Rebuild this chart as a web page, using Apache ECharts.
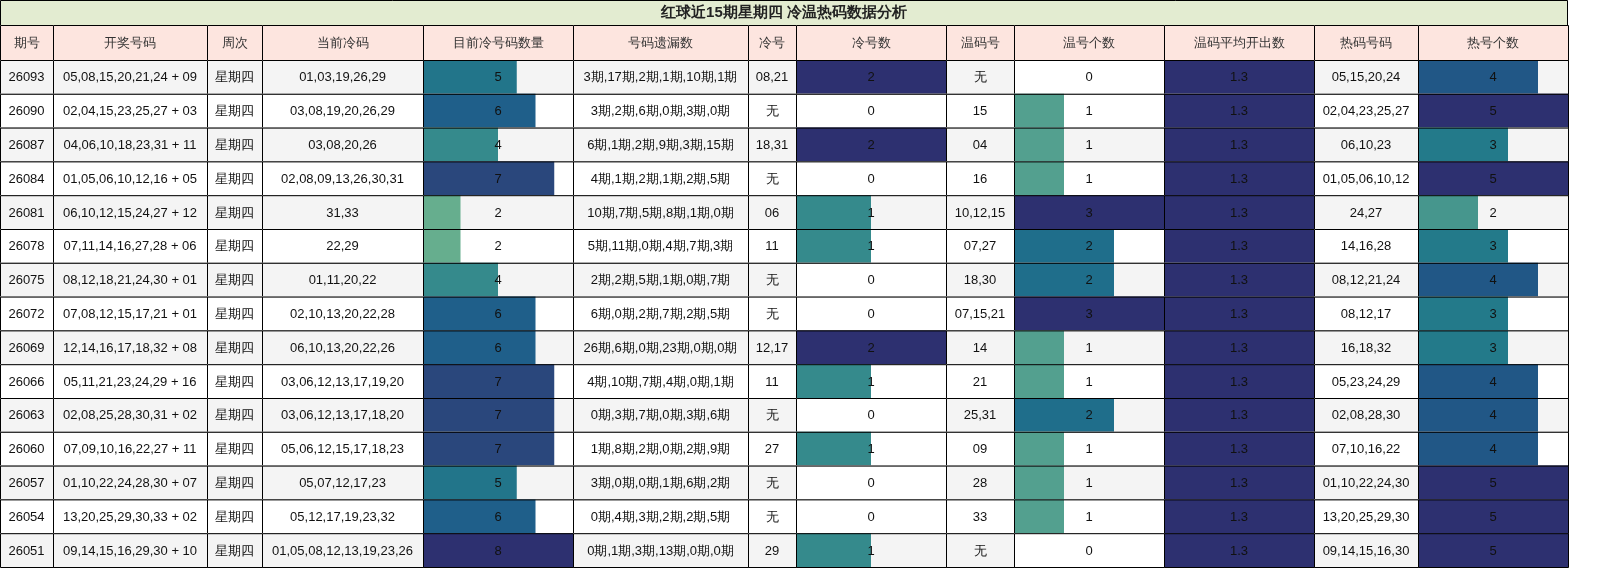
<!DOCTYPE html>
<html><head><meta charset="utf-8">
<script src="https://cdn.jsdelivr.net/npm/echarts@6/dist/echarts.min.js"></script>
<style>html,body{margin:0;padding:0;background:#fff}#c{width:1622px;height:587px}</style>
</head><body><div id="c"></div>
<script>
const title = '红球近15期星期四 冷温热码数据分析';
const headers = ['期号','开奖号码','周次','当前冷码','目前冷号码数量','号码遗漏数','冷号','冷号数','温码号','温号个数','温码平均开出数','热码号码','热号个数'];
const issues = ['26093','26090','26087','26084','26081','26078','26075','26072','26069','26066','26063','26060','26057','26054','26051'];
const draws = ['05,08,15,20,21,24 + 09','02,04,15,23,25,27 + 03','04,06,10,18,23,31 + 11','01,05,06,10,12,16 + 05','06,10,12,15,24,27 + 12','07,11,14,16,27,28 + 06','08,12,18,21,24,30 + 01','07,08,12,15,17,21 + 01','12,14,16,17,18,32 + 08','05,11,21,23,24,29 + 16','02,08,25,28,30,31 + 02','07,09,10,16,22,27 + 11','01,10,22,24,28,30 + 07','13,20,25,29,30,33 + 02','09,14,15,16,29,30 + 10'];
const weekday = '星期四';
const coldCodes = ['01,03,19,26,29','03,08,19,20,26,29','03,08,20,26','02,08,09,13,26,30,31','31,33','22,29','01,11,20,22','02,10,13,20,22,28','06,10,13,20,22,26','03,06,12,13,17,19,20','03,06,12,13,17,18,20','05,06,12,15,17,18,23','05,07,12,17,23','05,12,17,19,23,32','01,05,08,12,13,19,23,26'];
const coldCount = [5,6,4,7,2,2,4,6,6,7,7,7,5,6,8];
const missing = ['3期,17期,2期,1期,10期,1期','3期,2期,6期,0期,3期,0期','6期,1期,2期,9期,3期,15期','4期,1期,2期,1期,2期,5期','10期,7期,5期,8期,1期,0期','5期,11期,0期,4期,7期,3期','2期,2期,5期,1期,0期,7期','6期,0期,2期,7期,2期,5期','26期,6期,0期,23期,0期,0期','4期,10期,7期,4期,0期,1期','0期,3期,7期,0期,3期,6期','1期,8期,2期,0期,2期,9期','3期,0期,0期,1期,6期,2期','0期,4期,3期,2期,2期,5期','0期,1期,3期,13期,0期,0期'];
const coldNums = ['08,21','无','18,31','无','06','11','无','无','12,17','11','无','27','无','无','29'];
const coldNumCount = [2,0,2,0,1,1,0,0,2,1,0,1,0,0,1];
const warmNums = ['无','15','04','16','10,12,15','07,27','18,30','07,15,21','14','21','25,31','09','28','33','无'];
const warmCount = [0,1,1,1,3,2,2,3,1,1,2,1,1,1,0];
const warmAvg = [1.3,1.3,1.3,1.3,1.3,1.3,1.3,1.3,1.3,1.3,1.3,1.3,1.3,1.3,1.3];
const hotNums = ['05,15,20,24','02,04,23,25,27','06,10,23','01,05,06,10,12','24,27','14,16,28','08,12,21,24','08,12,17','16,18,32','05,23,24,29','02,08,28,30','07,10,16,22','01,10,22,24,30','13,20,25,29,30','09,14,15,16,30'];
const hotCount = [4,5,3,5,2,3,4,3,3,4,4,4,5,5,5];

const colEdges = [0,53,207,262,423,573,748,796,946,1014,1164,1314,1418,1568];
const TITLE_H = 25, HEAD_H = 35, ROW_H = (567 - 60) / 15;
const barCols = {4:{v:coldCount,max:8},7:{v:coldNumCount,max:2},9:{v:warmCount,max:3},10:{v:warmAvg,max:1.3},12:{v:hotCount,max:5}};
const textCols = {0:issues,1:draws,3:coldCodes,5:missing,6:coldNums,8:warmNums,11:hotNums};
const stops = [[0.25,'#66ae8e'],[0.34,'#529f8f'],[0.4,'#46968d'],[0.5,'#358a8c'],[0.6,'#237a8a'],[0.67,'#1f6d8b'],[0.75,'#1f5f8a'],[0.8,'#215786'],[0.875,'#2a477c'],[1,'#2d3070']];
function colorFor(r){
  if(r<=stops[0][0]) return stops[0][1];
  for(let i=1;i<stops.length;i++){ if(r<=stops[i][0]){const a=stops[i-1],b=stops[i];return echarts.color.lerp((r-a[0])/(b[0]-a[0]),[a[1],b[1]]);} }
  return stops[stops.length-1][1];
}
const cells = [];
cells.push({k:'title'});
for(let c=0;c<13;c++) cells.push({k:'head',c});
for(let r=0;r<15;r++) for(let c=0;c<13;c++) cells.push({k:'cell',r,c});
const data = cells.map((d,i)=>[i]);
const FONT = '"Liberation Sans", Arial, sans-serif';
function renderItem(params, api){
  const d = cells[params.dataIndex];
  const P = (x,y)=>api.coord([x,y]);
  const kids = [];
  const stroke = {stroke:'#000',lineWidth:1,fill:null};
  if(d.k==='title'){
    const a=P(0,0), b=P(1568,TITLE_H);
    kids.push({type:'rect',shape:{x:a[0],y:a[1],width:b[0]-a[0],height:b[1]-a[1]},style:{fill:'#e3ecd1'}});
    kids.push({type:'rect',shape:{x:a[0]+0.5,y:a[1]+0.5,width:b[0]-a[0]-1,height:b[1]-a[1]},style:stroke});
    kids.push({type:'text',style:{text:title,x:(a[0]+b[0])/2,y:(a[1]+b[1])/2,align:'center',verticalAlign:'middle',font:'bold 15px '+FONT,fill:'#222'}});
    return {type:'group',children:kids};
  }
  const c=d.c, x0=colEdges[c], x1=colEdges[c+1];
  let y0,y1;
  if(d.k==='head'){y0=TITLE_H;y1=TITLE_H+HEAD_H;} else {y0=60+d.r*ROW_H;y1=y0+ROW_H;}
  const a=P(x0,y0), b=P(x1,y1);
  const w=b[0]-a[0], h=b[1]-a[1];
  let bg = d.k==='head' ? '#fde5df' : (d.r%2===0 ? '#f4f4f4' : '#ffffff');
  let text='';
  if(d.k==='head') text=headers[c];
  else if(c===2) text=weekday;
  else if(textCols[c]) text=textCols[c][d.r];
  else if(barCols[c]){
    const v=barCols[c].v[d.r];
    text = c===10 ? v.toFixed(1) : String(v);
    if(v===0) bg='#ffffff';
  }
  kids.push({type:'rect',shape:{x:a[0],y:a[1],width:w,height:h},style:{fill:bg}});
  if(d.k==='cell' && barCols[c]){
    const v=barCols[c].v[d.r], m=barCols[c].max;
    if(v>0){
      const xb=P(x0+(x1-x0)*Math.min(v/m,1),y0)[0];
      kids.push({type:'rect',shape:{x:a[0],y:a[1],width:xb-a[0],height:h},style:{fill:colorFor(v/m)}});
    }
  }
  kids.push({type:'rect',shape:{x:a[0]+0.5,y:a[1]+0.5,width:w,height:h},style:stroke});
  kids.push({type:'text',style:{text,x:(a[0]+b[0])/2,y:(a[1]+b[1])/2+1,align:'center',verticalAlign:'middle',font:'13px '+FONT,fill:d.k==='head'?'#333':'#111'}});
  return {type:'group',children:kids};
}
const chart = echarts.init(document.getElementById('c'));
chart.setOption({
  animation:false,
  grid:{left:0,top:0,width:1568,height:567,containLabel:false,outerBoundsMode:'none'},
  xAxis:{type:'value',min:0,max:1568,show:false},
  yAxis:{type:'value',min:0,max:567,inverse:true,show:false},
  series:[{type:'custom',renderItem,data,clip:false}]
});
</script></body></html>
